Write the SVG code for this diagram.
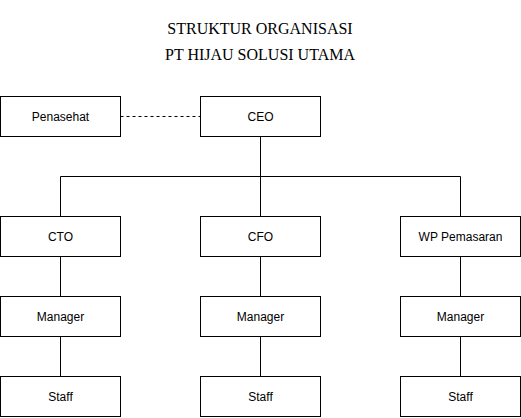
<svg xmlns="http://www.w3.org/2000/svg" width="521" height="418" viewBox="0 0 521 418">
<style>
.box{fill:#fff;stroke:#000;stroke-width:1}
.lbl{font-family:"Liberation Sans",Arial,sans-serif;font-size:12px;fill:#000;text-anchor:middle}
.title{font-family:"Liberation Serif","Times New Roman",serif;font-size:16px;fill:#000;text-anchor:middle}
.ln{fill:none;stroke:#000;stroke-width:1}
</style>
<rect width="521" height="418" fill="#fff"/>
<text class="title" x="260" y="34">STRUKTUR ORGANISASI</text>
<text class="title" x="260" y="60">PT HIJAU SOLUSI UTAMA</text>
<g id="connectors">
<path class="ln" d="M120.5 116.5H200.5" stroke-dasharray="3 3"/>
<path class="ln" d="M260.5 136.5V176.5M60.5 216.5V176.5H460.5V216.5M260.5 176.5V216.5"/>
<path class="ln" d="M60.5 256.5V296.5M60.5 336.5V376.5M260.5 256.5V296.5M260.5 336.5V376.5M460.5 256.5V296.5M460.5 336.5V376.5"/>
</g>
<g id="penasehat"><rect class="box" x="0.5" y="96.5" width="120" height="40"/><text class="lbl" x="60.5" y="120.5">Penasehat</text></g>
<g id="ceo"><rect class="box" x="200.5" y="96.5" width="120" height="40"/><text class="lbl" x="260.5" y="120.5">CEO</text></g>
<g id="cto"><rect class="box" x="0.5" y="216.5" width="120" height="40"/><text class="lbl" x="60.5" y="240.5">CTO</text></g>
<g id="cfo"><rect class="box" x="200.5" y="216.5" width="120" height="40"/><text class="lbl" x="260.5" y="240.5">CFO</text></g>
<g id="wp"><rect class="box" x="400.5" y="216.5" width="120" height="40"/><text class="lbl" x="460.5" y="240.5">WP Pemasaran</text></g>
<g id="manager1"><rect class="box" x="0.5" y="296.5" width="120" height="40"/><text class="lbl" x="60.5" y="320.5">Manager</text></g>
<g id="manager2"><rect class="box" x="200.5" y="296.5" width="120" height="40"/><text class="lbl" x="260.5" y="320.5">Manager</text></g>
<g id="manager3"><rect class="box" x="400.5" y="296.5" width="120" height="40"/><text class="lbl" x="460.5" y="320.5">Manager</text></g>
<g id="staff1"><rect class="box" x="0.5" y="376.5" width="120" height="40"/><text class="lbl" x="60.5" y="400.5">Staff</text></g>
<g id="staff2"><rect class="box" x="200.5" y="376.5" width="120" height="40"/><text class="lbl" x="260.5" y="400.5">Staff</text></g>
<g id="staff3"><rect class="box" x="400.5" y="376.5" width="120" height="40"/><text class="lbl" x="460.5" y="400.5">Staff</text></g>
</svg>
